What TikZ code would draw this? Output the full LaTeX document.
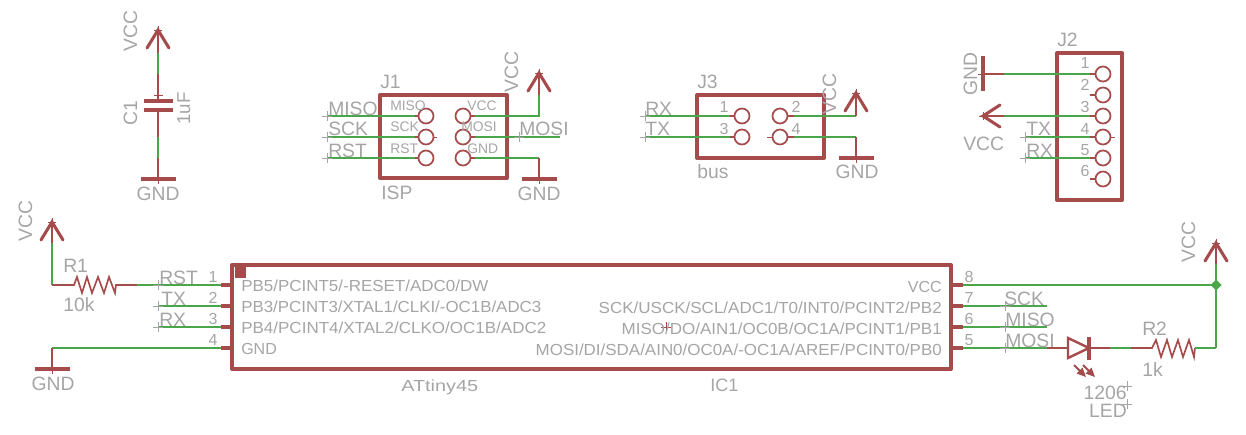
\documentclass[tikz,border=0pt]{standalone}
\usepackage{fontspec}
\usepackage{graphicx}
\setmainfont{Liberation Sans}
\definecolor{eaglered}{RGB}{165,75,75}
\definecolor{eaglegreen}{RGB}{75,165,75}
\definecolor{eaglegray}{RGB}{165,165,165}
\newcommand{\fitpx}[2]{\resizebox{\dimexpr #1pt*3/4\relax}{\height}{#2}}
\tikzset{
  wire/.style={draw=eaglegreen,line width=1.5pt},
  lead/.style={draw=eaglered,line width=1.25pt},
  stub/.style={draw=eaglered,line width=2.4pt},
  boxline/.style={draw=eaglered,line width=3pt,line join=round},
  pinring/.style={draw=eaglered,line width=1.3pt},
  hair/.style={draw=eaglered,line width=0.45pt},
  graycross/.style={draw=eaglegray,line width=0.45pt},
  big/.style={text=eaglegray,inner sep=0pt,font=\fontsize{14.5}{14}\selectfont,anchor=base west},
  bigr/.style={big,rotate=90},
  mid/.style={text=eaglegray,inner sep=0pt,font=\fontsize{12}{12}\selectfont,anchor=base west},
  midr/.style={mid,anchor=base east},
  num/.style={mid,anchor=base},
  tiny/.style={text=eaglegray,inner sep=0pt,font=\fontsize{10.4}{10}\selectfont,anchor=base west},
  vccup/.pic={\draw[draw=eaglered,line width=2.3pt,line cap=round,line join=miter] (-11,18)--(0,0)--(11,18);
    \draw[hair] (0,-4)--(0,4) (-4,0)--(4,0);},
  vccleft/.pic={\draw[draw=eaglered,line width=2.3pt,line cap=round,line join=miter] (17,-11)--(0,0)--(17,11);
    \draw[hair] (-4,0)--(4,0) (0,-4)--(0,4);},
  gndbar/.pic={\draw[draw=eaglered,line width=2.4pt] (-17.5,0)--(17.5,0); \draw[hair] (0,-5)--(0,5);},
  gndside/.pic={\draw[draw=eaglered,line width=2.4pt] (0,-17.5)--(0,17.5); \draw[hair] (-5,0)--(5,0);},
  cross/.pic={\draw[graycross] (-5,0)--(5,0) (0,-5)--(0,5);},
  redcross/.pic={\draw[hair] (-5,0)--(5,0) (0,-5)--(0,5);},
}
\begin{document}
\begin{tikzpicture}[x=0.75pt,y=-0.75pt]
\useasboundingbox (0,0) rectangle (1246,435);

% ---------- C1
\coordinate (c1v) at (158,30); \coordinate (c1a) at (158,53); \coordinate (c1b) at (158,74);
\coordinate (c1p) at (158,101); \coordinate (c1q) at (158,110);
\coordinate (c1c) at (158,137); \coordinate (c1d) at (158,158); \coordinate (c1g) at (158,179);
\draw[lead] (c1v)--(c1a); \draw[wire] (c1a)--(c1b); \draw[lead] (c1b)--(c1p);
\draw[lead] (c1q)--(c1c); \draw[wire] (c1c)--(c1d); \draw[lead] (c1d)--(c1g);
\draw[stub] (144,101)--(173,101) (144,110)--(173,110);
\draw[hair] (154,95.5)--(163,95.5);
\pic at (c1v) {vccup}; \pic at (c1g) {gndbar};
\node[bigr,anchor=base west] (t-c1vcc) at (137,52) {VCC};
\node[bigr] (t-c1) at (137,126) {C1};
\node[bigr,font=\fontsize{14}{14}\selectfont] (t-c1val) at (190,125) {1uF};
\node[big,anchor=base] (t-c1gnd) at (158,200) {GND};

% ---------- J1
\draw[boxline] (380,95) rectangle (507,178);
\foreach \n/\yy in {a/116,b/137,c/158}{
  \coordinate (j1l\n) at (419,\yy); \coordinate (j1r\n) at (470,\yy);
  \draw[pinring] (426,\yy) circle [radius=7.5];
  \draw[pinring] (463,\yy) circle [radius=7.5];
}
\coordinate (j1lfa) at (327,116); \coordinate (j1lfb) at (327,137); \coordinate (j1lfc) at (327,158);
\coordinate (j1v) at (539,73); \coordinate (j1vw) at (539,95); \coordinate (j1vc) at (539,116);
\coordinate (j1m) at (560,137); \coordinate (j1gc) at (539,158); \coordinate (j1g) at (539,179);
\draw[wire] (j1lfa)--(415,116) (j1lfb)--(415,137) (j1lfc)--(415,158);
\draw[lead] (415,116)--(j1la) (415,137)--(j1lb) (415,158)--(j1lc);
\draw[lead] (j1ra)--(475,116) (j1rb)--(475,137) (j1rc)--(475,158);
\draw[wire] (475,116)--(j1vc)--(j1vw) (475,137)--(j1m) (475,158)--(j1gc);
\draw[lead] (j1vw)--(j1v) (j1gc)--(j1g);
\pic at (j1v) {vccup}; \pic at (j1g) {gndbar};
\pic at (j1lfa) {cross}; \pic at (j1lfb) {cross}; \pic at (j1lfc) {cross}; \pic at (519,137) {cross};
\draw[hair] (433,137)--(437,137);
\node[big] (t-j1) at (380,89) {J1};
\node[big] (t-isp) at (381,199) {ISP};
\node[big] (t-j1miso) at (328,115) {MISO};
\node[big] (t-j1sck) at (328,136) {SCK};
\node[big] (t-j1rst) at (328,157) {RST};
\node[big] (t-j1mosi) at (519,136) {MOSI};
\node[bigr] (t-j1vcc) at (518,93) {VCC};
\node[big,anchor=base] (t-j1gnd) at (539,200) {GND};
\node[tiny] (p-miso) at (390,111) {MISO};
\node[tiny] (p-sck) at (390,132) {SCK};
\node[tiny] (p-rst) at (390,153) {RST};
\node[tiny] (p-vcc) at (467,111) {VCC};
\node[tiny] (p-mosi) at (461,132) {MOSI};
\node[tiny] (p-gnd) at (467,153) {GND};

% ---------- J3
\draw[boxline] (697,95) rectangle (824,158);
\foreach \n/\yy in {a/116,b/137}{
  \coordinate (j3l\n) at (735,\yy); \coordinate (j3r\n) at (787,\yy);
  \draw[pinring] (742,\yy) circle [radius=7.5];
  \draw[pinring] (780,\yy) circle [radius=7.5];
}
\coordinate (j3fa) at (645,116); \coordinate (j3fb) at (645,137);
\coordinate (j3v) at (856,93); \coordinate (j3vc) at (856,116);
\coordinate (j3gc) at (856,137); \coordinate (j3g) at (856,158);
\draw[wire] (j3fa)--(730,116) (j3fb)--(730,137);
\draw[lead] (730,116)--(j3la) (730,137)--(j3lb) (j3ra)--(794,116) (j3rb)--(794,137);
\draw[wire] (794,116)--(j3vc) (794,137)--(j3gc);
\draw[lead] (j3vc)--(j3v) (j3gc)--(j3g);
\pic at (j3v) {vccup}; \pic at (j3g) {gndbar};
\pic at (j3fa) {cross}; \pic at (j3fb) {cross};
\draw[hair] (767,137)--(773,137);
\node[big] (t-j3) at (697,89) {J3};
\node[big] (t-bus) at (697,178) {bus};
\node[big] (t-j3rx) at (645,115) {RX};
\node[big] (t-j3tx) at (645,136) {TX};
\node[bigr] (t-j3vcc) at (836,115) {VCC};
\node[big,anchor=base] (t-j3gnd) at (857,178) {GND};
\node[num] (n-j3a) at (724,113) {1};
\node[num] (n-j3b) at (796,113) {2};
\node[num] (n-j3c) at (724,134) {3};
\node[num] (n-j3d) at (796,134) {4};

% ---------- J2
\draw[boxline] (1057,53) rectangle (1122,200);
\foreach \n/\yy in {a/74,b/95,c/116,d/137,e/158,f/179}{
  \coordinate (j2\n) at (1095,\yy);
  \draw[pinring] (1103,\yy) circle [radius=7.5];
  \draw[lead] (1090,\yy)--(j2\n);
}
\coordinate (j2g) at (983,74); \coordinate (j2gw) at (1004,74);
\coordinate (j2v) at (983,116); \coordinate (j2vw) at (1004,116);
\coordinate (j2tx) at (1025,137); \coordinate (j2rx) at (1025,158);
\draw[lead] (j2g)--(j2gw) (j2v)--(j2vw);
\draw[wire] (j2gw)--(1090,74) (j2vw)--(1090,116) (j2tx)--(1090,137) (j2rx)--(1090,158);
\pic at (j2g) {gndside}; \pic at (j2v) {vccleft};
\pic at (j2tx) {cross}; \pic at (j2rx) {cross};
\draw[hair] (1110,137)--(1115,137);
\node[big] (t-j2) at (1057,47) {J2};
\node[bigr,anchor=base] (t-j2gnd) at (977,74) {GND};
\node[big] (t-j2vcc) at (963,151) {VCC};
\node[big] (t-j2tx) at (1026,136) {TX};
\node[big] (t-j2rx) at (1026,157) {RX};
\foreach \nn/\lab/\yy in {a/1/69,b/2/91,c/3/113,d/4/134,e/5/155,f/6/176}{
  \node[num] (n-j2\nn) at (1085,\yy) {\lab};
}

% ---------- IC1
\draw[boxline] (232,265) rectangle (951,369);
\fill[eaglered] (235,267) rectangle (246,278);
\foreach \nn/\yy in {a/285,b/306,c/327,d/348}{
  \coordinate (il\nn) at (221,\yy); \coordinate (ir\nn) at (963,\yy);
  \draw[stub] (il\nn)--(232,\yy);
  \draw[stub] (951,\yy)--(ir\nn);
}
\pic at (666,327) {redcross};
\node[mid] (l1) at (241,291) {\fitpx{247}{PB5/PCINT5/-RESET/ADC0/DW}};
\node[mid] (l2) at (241,312) {\fitpx{300}{PB3/PCINT3/XTAL1/CLKI/-OC1B/ADC3}};
\node[mid] (l3) at (241,333) {\fitpx{305}{PB4/PCINT4/XTAL2/CLKO/OC1B/ADC2}};
\node[mid] (l4) at (241,354) {GND};
\node[midr] (r1) at (942,292) {VCC};
\node[midr] (r2) at (942,313) {\fitpx{343}{SCK/USCK/SCL/ADC1/T0/INT0/PCINT2/PB2}};
\node[midr] (r3) at (942,334) {\fitpx{320}{MISO/DO/AIN1/OC0B/OC1A/PCINT1/PB1}};
\node[midr] (r4) at (942,355) {\fitpx{406}{MOSI/DI/SDA/AIN0/OC0A/-OC1A/AREF/PCINT0/PB0}};
\node[mid] (t-attiny) at (401,391) {\fitpx{77}{ATtiny45}};
\node[mid,font=\fontsize{13.5}{13}\selectfont] (t-ic1) at (710,391) {IC1};
\foreach \nn/\lab/\yy in {a/1/282,b/2/303,c/3/324,d/4/345}{\node[num] (n-l\nn) at (213,\yy) {\lab};}
\foreach \nn/\lab/\yy in {a/8/282,b/7/303,c/6/324,d/5/345}{\node[num] (n-r\nn) at (969,\yy) {\lab};}

% ---------- left of IC1 (R1, RST, TX, RX, GND)
\coordinate (r1v) at (52,222); \coordinate (r1vw) at (52,243); \coordinate (r1c) at (52,285);
\coordinate (r1s) at (74,285); \coordinate (r1e) at (116,285); \coordinate (r1w) at (137,285);
\draw[lead] (r1v)--(r1vw);
\draw[wire] (r1vw)--(r1c);
\draw[lead] (r1c)--(r1s)--(77,277)--(82,293)--(87,277)--(92,293)--(98,277)--(104,293)--(109,277)--(115,293)--(r1e)--(r1w);
\draw[wire] (r1w)--(ila);
\coordinate (ltx) at (158,306); \coordinate (lrx) at (158,327);
\draw[wire] (ltx)--(ilb) (lrx)--(ilc);
\coordinate (lg) at (52,348); \coordinate (lgb) at (52,369);
\draw[wire] (lg)--(ild); \draw[lead] (lg)--(lgb);
\pic at (r1v) {vccup}; \pic at (lgb) {gndbar};
\pic at (158,285) {cross}; \pic at (ltx) {cross}; \pic at (lrx) {cross};
\node[bigr] (t-r1vcc) at (32,242) {VCC};
\node[big] (t-r1) at (63,272) {R1};
\node[big] (t-10k) at (63,311) {10k};
\node[big] (t-lrst) at (159,284) {RST};
\node[big] (t-ltx) at (161,305) {TX};
\node[big] (t-lrx) at (159,326) {RX};
\node[big,anchor=base] (t-lgnd) at (53,390) {GND};

% ---------- right of IC1 (wires, LED, R2, VCC)
\coordinate (rv) at (1216,243); \coordinate (rvw) at (1216,264); \coordinate (rj) at (1216,285); \coordinate (rb) at (1216,348);
\coordinate (rsck) at (1047,306); \coordinate (rmiso) at (1047,327); \coordinate (rmosi) at (1047,348);
\coordinate (da) at (1068,348); \coordinate (dc) at (1089,348);
\coordinate (w1) at (1110,348); \coordinate (w2) at (1131,348); \coordinate (r2s) at (1152,348); \coordinate (r2e) at (1195,348);
\draw[wire] (ira)--(rj) (irb)--(rsck) (irc)--(rmiso) (ird)--(rmosi);
\draw[wire] (rvw)--(rb);
\draw[lead] (rv)--(rvw);
\draw[lead] (rmosi)--(da) (dc)--(w1);
\draw[wire] (w1)--(w2);
\draw[lead] (w2)--(r2s)--(1156,340)--(1161,357)--(1167,340)--(1172,357)--(1178,340)--(1183,357)--(1189,340)--(1194,357)--(r2e);
\draw[wire] (r2e)--(rb);
\draw[draw=eaglered,line width=1.8pt,line join=miter] (da) -- (1068,338) -- (dc) -- (1068,358) -- cycle;
\draw[draw=eaglered,line width=2.4pt] (1089,337)--(1089,360);
\fill[eaglegreen] (1216,279.5)--(1221.5,285)--(1216,290.5)--(1210.5,285)--cycle;
\foreach \xx in {1074,1083}{
  \draw[draw=eaglered,line width=1.4pt] (\xx,365)--(\xx+8,373);
  \fill[eaglered] (\xx+12,377)--(\xx+2.5,373.5)--(\xx+8.5,367.5)--cycle;
}
\pic at (rv) {vccup};
\pic at (1005,306) {cross}; \pic at (1005,327) {cross}; \pic at (1005,348) {cross};
\pic at (1127,386) {cross}; \pic at (1127,404) {cross};
\node[bigr] (t-rvcc) at (1195,263) {VCC};
\node[big] (t-rsck) at (1004,305) {SCK};
\node[big] (t-rmiso) at (1005,326) {MISO};
\node[big] (t-rmosi) at (1005,347) {MOSI};
\node[big] (t-r2) at (1142,335) {R2};
\node[big] (t-1k) at (1142,376) {1k};
\node[big,anchor=base east] (t-1206) at (1127,399) {1206};
\node[big,anchor=base east] (t-led) at (1127,417) {LED};
\end{tikzpicture}
\end{document}
